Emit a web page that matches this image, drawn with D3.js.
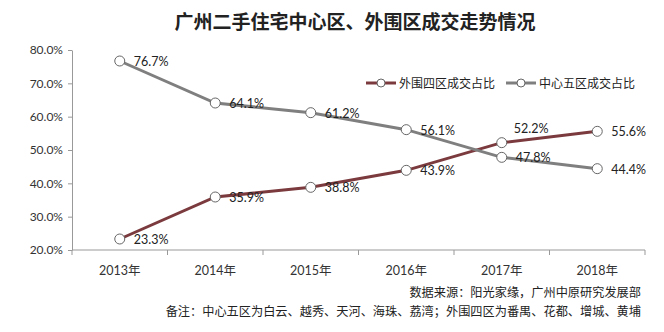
<!DOCTYPE html>
<html>
<head>
<meta charset="utf-8">
<script src="https://cdn.jsdelivr.net/npm/d3@7"></script>
<style>
body { margin: 0; background: #fff; }
text { font-family: "Lato", "Noto Sans CJK SC", sans-serif; }
.cjk { font-family: "Noto Sans CJK SC", sans-serif; }
</style>
</head>
<body>
<div id="chart"></div>
<script>
const years = ["2013年", "2014年", "2015年", "2016年", "2017年", "2018年"];
const outer = [23.3, 35.9, 38.8, 43.9, 52.2, 55.6];
const center = [76.7, 64.1, 61.2, 56.1, 47.8, 44.4];
const yTicks = [20, 30, 40, 50, 60, 70, 80];

const width = 664, height = 332;

const svg = d3.select("#chart").append("svg")
    .attr("width", width)
    .attr("height", height);

const x = d3.scaleBand().domain(years).range([72, 645]);
const y = d3.scaleLinear().domain([20, 80]).range([250, 50]);

svg.append("text")
    .attr("class", "cjk")
    .attr("x", 355).attr("y", 29)
    .attr("text-anchor", "middle")
    .attr("font-size", 19)
    .attr("font-weight", "bold")
    .attr("fill", "#222")
    .text("广州二手住宅中心区、外围区成交走势情况");

// y axis
const yAxis = svg.append("g")
    .attr("transform", "translate(72,0)")
    .call(d3.axisLeft(y).tickValues(yTicks).tickSize(4).tickSizeOuter(0)
        .tickFormat(d => d.toFixed(1) + "%"));
yAxis.selectAll("path, line").attr("stroke", "#999");
yAxis.selectAll("text").attr("font-size", 12).attr("fill", "#333").attr("x", -9);

// x axis with ticks at band boundaries
const xAxis = svg.append("g").attr("transform", "translate(0,250)");
xAxis.append("line")
    .attr("x1", x.range()[0]).attr("x2", x.range()[1])
    .attr("stroke", "#999");
xAxis.selectAll(".tk")
    .data(years.map(d => x(d)).concat([x.range()[1]]))
    .join("line")
    .attr("x1", d => d).attr("x2", d => d)
    .attr("y1", 0).attr("y2", 5)
    .attr("stroke", "#999");
xAxis.selectAll(".lab")
    .data(years)
    .join("text")
    .attr("x", d => x(d) + x.bandwidth() / 2)
    .attr("y", 25)
    .attr("text-anchor", "middle")
    .attr("font-size", 12.5)
    .attr("fill", "#333")
    .text(d => d);

const series = [
    { name: "外围四区成交占比", values: outer, color: "#7b3a3d" },
    { name: "中心五区成交占比", values: center, color: "#7f7f7f" }
];

const line = d3.line()
    .x((d, i) => x(years[i]) + x.bandwidth() / 2)
    .y(d => y(d));

series.forEach(s => {
    svg.append("path")
        .attr("d", line(s.values))
        .attr("fill", "none")
        .attr("stroke", s.color)
        .attr("stroke-width", 3);
});

series.forEach(s => {
    svg.selectAll(null)
        .data(s.values)
        .join("circle")
        .attr("cx", (d, i) => x(years[i]) + x.bandwidth() / 2)
        .attr("cy", d => y(d))
        .attr("r", 5)
        .attr("fill", "#fff")
        .attr("stroke", "#666")
        .attr("stroke-width", 1);
    svg.selectAll(null)
        .data(s.values)
        .join("text")
        .attr("x", (d, i) => x(years[i]) + x.bandwidth() / 2 + (s.values === outer && i === 4 ? 12 : 14))
        .attr("y", (d, i) => y(d) + (s.values === outer && i === 4 ? -10 : 5))
        .attr("font-size", 12.5)
        .attr("fill", "#222")
        .text(d => d.toFixed(1) + "%");
});

// legend
const legend = svg.append("g").attr("transform", "translate(366,83)");
series.forEach((s, i) => {
    const g = legend.append("g").attr("transform", `translate(${i * 140},0)`);
    g.append("line").attr("x1", 0).attr("x2", 30)
        .attr("stroke", s.color).attr("stroke-width", 3);
    g.append("circle").attr("cx", 15).attr("r", 4)
        .attr("fill", "#fff").attr("stroke", "#666");
    g.append("text").attr("class", "cjk")
        .attr("x", 33).attr("y", 4.5)
        .attr("font-size", 12).attr("fill", "#222")
        .text(s.name);
});

svg.append("text").attr("class", "cjk")
    .attr("x", 641).attr("y", 297)
    .attr("text-anchor", "end")
    .attr("font-size", 12.2).attr("fill", "#222")
    .text("数据来源：阳光家缘，广州中原研究发展部");
svg.append("text").attr("class", "cjk")
    .attr("x", 641).attr("y", 316)
    .attr("text-anchor", "end")
    .attr("font-size", 12.2).attr("fill", "#222")
    .text("备注：中心五区为白云、越秀、天河、海珠、荔湾；外围四区为番禺、花都、增城、黄埔");
</script>
</body>
</html>
